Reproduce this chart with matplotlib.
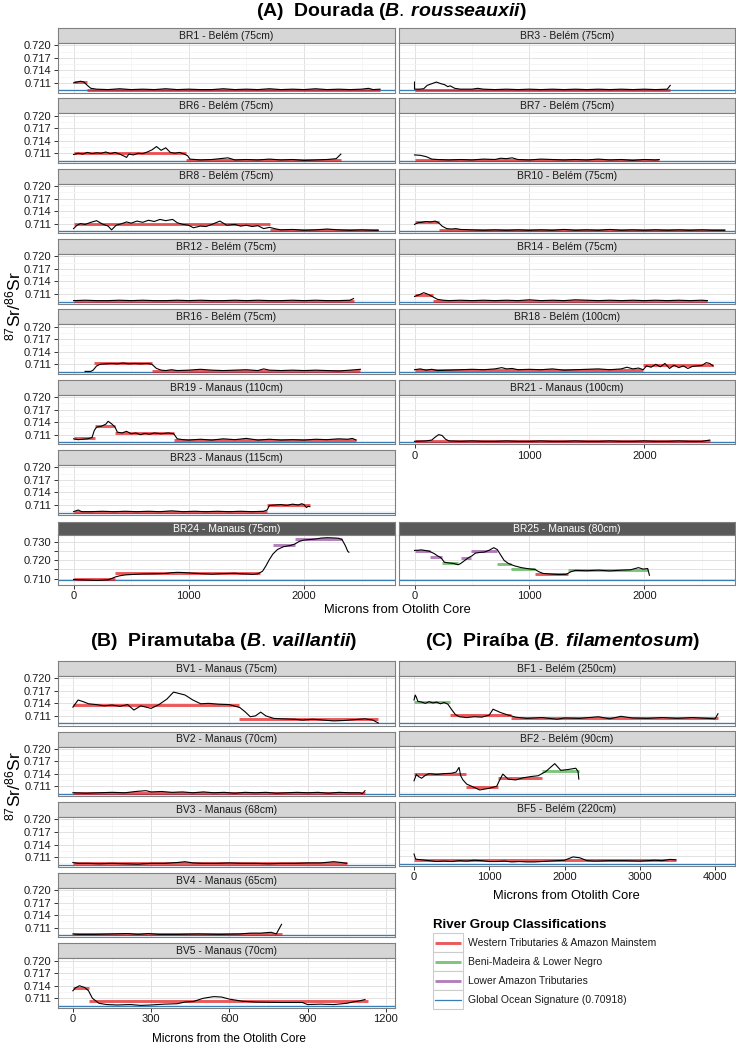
import numpy as np
import matplotlib.pyplot as plt
from matplotlib.patches import Rectangle

plt.rcParams['font.family'] = ['Liberation Sans', 'DejaVu Sans']
plt.rcParams['mathtext.fontset'] = 'custom'
plt.rcParams['mathtext.rm'] = 'Liberation Sans'
plt.rcParams['mathtext.it'] = 'Liberation Sans:style=italic:weight=bold'

W, H = 736, 1044
OCEAN = 0.70918
GROUP_COLORS = {'W': '#E41A1C', 'B': '#4DAF4A', 'L': '#984EA3'}

# ---------------- (A) Dourada : black profile (micron, 87Sr/86Sr) + classified segments ----------------
br1_line = [(0,.7110),(30,.7112),(60,.7114),(90,.7112),(120,.7104),(150,.7097),(200,.7095),(300,.7094),(400,.7096),(500,.7094),(600,.7095),(700,.7094),(800,.7096),(900,.7094),(1000,.7095),(1100,.7094),(1200,.7094),(1300,.7096),(1400,.7094),(1500,.7095),(1600,.7094),(1700,.7096),(1800,.7094),(1900,.7095),(2000,.7094),(2100,.7096),(2200,.7094),(2300,.7095),(2400,.7094),(2500,.7095),(2560,.7097),(2600,.7094),(2660,.7095)]
br1_bars = [(0,115,.7111,'W'),(115,2660,.7094,'W')]

br3_line = [(0,.7112),(0,.7095),(40,.7095),(80,.7096),(110,.7104),(150,.7108),(190,.7112),(230,.7108),(260,.7106),(290,.7101),(310,.7103),(350,.7097),(400,.7095),(500,.7095),(550,.7097),(600,.7095),(700,.7094),(800,.7095),(900,.7094),(1000,.7095),(1100,.7094),(1200,.7095),(1300,.7094),(1400,.7095),(1500,.7094),(1600,.7095),(1700,.7094),(1800,.7095),(1900,.7094),(2000,.7095),(2100,.7094),(2200,.7095),(2226,.7104)]
br3_bars = [(0,2226,.7094,'W')]

br6_line = [(0,.7107),(40,.7110),(80,.7108),(120,.7112),(160,.7109),(200,.7111),(240,.7110),(280,.7113),(320,.7109),(360,.7112),(400,.7108),(440,.7103),(460,.7100),(480,.7108),(520,.7106),(560,.7110),(600,.7109),(640,.7113),(680,.7118),(720,.7126),(760,.7117),(800,.7123),(840,.7112),(880,.7110),(920,.7112),(960,.7108),(990,.7104),(1010,.7096),(1100,.7094),(1200,.7095),(1340,.7099),(1400,.7094),(1500,.7095),(1600,.7094),(1700,.7096),(1800,.7094),(1900,.7095),(2000,.7093),(2100,.7094),(2200,.7095),(2280,.7097),(2320,.7108)]
br6_bars = [(0,980,.7110,'W'),(980,2320,.7094,'W')]

br7_line = [(0,.7106),(50,.7105),(100,.7102),(150,.7096),(200,.7095),(300,.7094),(400,.7095),(500,.7094),(600,.7096),(700,.7095),(750,.7098),(800,.7097),(850,.7099),(900,.7095),(1000,.7094),(1100,.7096),(1200,.7095),(1300,.7094),(1400,.7095),(1500,.7094),(1600,.7096),(1700,.7094),(1800,.7095),(1900,.7093),(2000,.7095),(2100,.7094),(2130,.7095)]
br7_bars = [(0,2130,.7094,'W')]

br8_line = [(0,.7098),(30,.7106),(60,.7110),(100,.7108),(150,.7113),(200,.7117),(250,.7109),(300,.7104),(330,.7095),(370,.7106),(420,.7110),(460,.7114),(500,.7111),(550,.7116),(600,.7113),(650,.7118),(700,.7115),(750,.7120),(800,.7117),(860,.7120),(900,.7112),(950,.7108),(1000,.7106),(1040,.7100),(1100,.7104),(1150,.7103),(1200,.7108),(1270,.7116),(1330,.7106),(1400,.7108),(1450,.7104),(1500,.7106),(1550,.7103),(1600,.7105),(1650,.7098),(1700,.7101),(1760,.7097),(1800,.7095),(1900,.7096),(2000,.7094),(2100,.7095),(2200,.7097),(2300,.7095),(2400,.7094),(2500,.7095),(2600,.7094),(2645,.7094)]
br8_bars = [(0,1705,.7109,'W'),(1705,2645,.7095,'W')]

br10_line = [(0,.7108),(30,.7112),(60,.7113),(100,.7115),(140,.7114),(180,.7116),(210,.7112),(240,.7104),(280,.7098),(320,.7097),(360,.7098),(400,.7096),(500,.7095),(600,.7094),(700,.7095),(800,.7094),(900,.7095),(1000,.7094),(1100,.7095),(1200,.7094),(1300,.7096),(1400,.7094),(1500,.7095),(1600,.7094),(1700,.7096),(1800,.7094),(1900,.7095),(2000,.7094),(2100,.7095),(2200,.7094),(2300,.7095),(2400,.7094),(2500,.7095),(2600,.7094),(2700,.7094)]
br10_bars = [(0,210,.7114,'W'),(210,2700,.7094,'W')]

br12_line = [(0,.7094),(100,.7095),(200,.7094),(300,.7094),(400,.7095),(500,.7094),(600,.7095),(700,.7094),(800,.7094),(900,.7095),(1000,.7094),(1100,.7095),(1200,.7094),(1300,.7094),(1400,.7095),(1500,.7094),(1600,.7095),(1700,.7094),(1800,.7094),(1900,.7095),(2000,.7094),(2100,.7095),(2200,.7094),(2300,.7094),(2400,.7095),(2430,.7099)]
br12_bars = [(0,2430,.7094,'W')]

br14_line = [(0,.7104),(40,.7108),(80,.7113),(120,.7109),(160,.7103),(200,.7097),(250,.7095),(300,.7094),(400,.7095),(500,.7094),(600,.7095),(700,.7094),(800,.7095),(900,.7094),(1000,.7096),(1100,.7094),(1200,.7095),(1300,.7094),(1400,.7096),(1500,.7095),(1600,.7094),(1700,.7095),(1800,.7094),(1900,.7095),(2000,.7094),(2100,.7095),(2200,.7094),(2300,.7095),(2400,.7094),(2500,.7095),(2550,.7094)]
br14_bars = [(0,165,.7108,'W'),(165,2550,.7094,'W')]

br16_line = [(100,.7093),(150,.7093),(170,.7096),(200,.7106),(230,.7110),(280,.7111),(330,.7112),(380,.7111),(430,.7113),(480,.7111),(530,.7112),(580,.7111),(640,.7112),(680,.7110),(720,.7100),(760,.7096),(800,.7095),(850,.7097),(900,.7095),(1000,.7096),(1100,.7098),(1200,.7096),(1300,.7095),(1400,.7096),(1500,.7097),(1600,.7095),(1650,.7099),(1700,.7096),(1800,.7095),(1900,.7096),(2000,.7095),(2100,.7096),(2200,.7095),(2300,.7094),(2400,.7096),(2490,.7098)]
br16_bars = [(175,680,.7112,'W'),(680,2490,.7095,'W')]

br18_line = [(0,.7097),(50,.7099),(100,.7096),(150,.7098),(200,.7095),(300,.7096),(400,.7097),(500,.7098),(600,.7097),(700,.7099),(760,.7102),(800,.7099),(850,.7100),(900,.7097),(1000,.7098),(1100,.7097),(1200,.7099),(1300,.7096),(1400,.7097),(1500,.7098),(1600,.7099),(1700,.7097),(1800,.7099),(1850,.7103),(1900,.7099),(1950,.7101),(1990,.7097),(2020,.7106),(2060,.7103),(2100,.7110),(2140,.7104),(2180,.7112),(2220,.7100),(2260,.7108),(2300,.7102),(2340,.7106),(2380,.7100),(2420,.7105),(2460,.7106),(2500,.7107),(2540,.7114),(2570,.7112),(2600,.7106)]
br18_bars = [(0,1990,.7096,'W'),(1990,2600,.7108,'W')]

br19_line = [(0,.7100),(40,.7098),(80,.7099),(120,.7100),(160,.7103),(180,.7120),(200,.7128),(240,.7130),(280,.7135),(300,.7142),(330,.7136),(360,.7128),(380,.7116),(420,.7114),(460,.7118),(500,.7112),(540,.7114),(580,.7110),(620,.7113),(660,.7111),(700,.7114),(760,.7112),(820,.7114),(870,.7112),(900,.7100),(950,.7098),(1000,.7097),(1100,.7099),(1200,.7097),(1300,.7100),(1400,.7098),(1500,.7101),(1600,.7097),(1700,.7099),(1800,.7097),(1900,.7098),(2000,.7097),(2100,.7099),(2200,.7098),(2300,.7100),(2380,.7099),(2420,.7101),(2452,.7097)]
br19_bars = [(0,183,.7102,'W'),(183,363,.7131,'W'),(363,872,.7113,'W'),(872,2452,.7098,'W')]

br21_line = [(0,.7094),(100,.7095),(150,.7097),(180,.7104),(210,.7110),(240,.7108),(270,.7099),(300,.7095),(400,.7094),(500,.7095),(600,.7094),(700,.7094),(800,.7095),(900,.7094),(1000,.7094),(1100,.7095),(1200,.7094),(1300,.7094),(1400,.7095),(1500,.7094),(1600,.7094),(1700,.7095),(1800,.7094),(1900,.7094),(2000,.7095),(2100,.7094),(2200,.7094),(2300,.7095),(2400,.7094),(2500,.7094),(2570,.7097)]
br21_bars = [(0,2570,.7094,'W')]

br23_line = [(0,.7094),(40,.7098),(70,.7094),(150,.7094),(250,.7095),(350,.7094),(450,.7095),(550,.7094),(650,.7095),(750,.7094),(850,.7096),(950,.7094),(1050,.7095),(1150,.7094),(1250,.7095),(1350,.7094),(1450,.7095),(1550,.7094),(1650,.7095),(1680,.7098),(1700,.7109),(1750,.7110),(1800,.7111),(1850,.7109),(1900,.7112),(1950,.7110),(1980,.7113),(2000,.7111),(2020,.7104),(2040,.7107),(2050,.7106)]
br23_bars = [(0,1680,.7094,'W'),(1680,2050,.7110,'W')]

br24_line = [(0,.7095),(50,.7093),(100,.7092),(150,.7091),(200,.7090),(250,.7091),(300,.7093),(330,.7100),(360,.7108),(400,.7115),(450,.7120),(500,.7122),(600,.7125),(700,.7126),(800,.7128),(850,.7132),(900,.7134),(950,.7133),(1000,.7131),(1100,.7127),(1200,.7124),(1300,.7127),(1400,.7129),(1450,.7126),(1500,.7125),(1560,.7123),(1600,.7126),(1640,.7140),(1670,.7170),(1700,.7205),(1730,.7235),(1770,.7260),(1820,.7275),(1880,.7282),(1920,.7290),(1960,.7305),(2000,.7312),(2050,.7315),(2100,.7318),(2150,.7323),(2200,.7325),(2250,.7324),(2300,.7322),(2330,.7315),(2360,.7280),(2380,.7250),(2390,.7245)]
br24_bars = [(0,357,.7095,'W'),(357,1617,.7131,'W'),(1727,1922,.7285,'L'),(1922,2330,.7318,'L')]

br25_line = [(0,.7255),(30,.7256),(60,.7258),(100,.7254),(130,.7250),(170,.7238),(200,.7225),(230,.7215),(260,.7190),(300,.7186),(340,.7183),(380,.7176),(400,.7182),(430,.7196),(470,.7215),(500,.7225),(530,.7240),(570,.7244),(610,.7246),(650,.7256),(690,.7270),(720,.7260),(750,.7230),(780,.7200),(820,.7182),(870,.7170),(930,.7160),(1000,.7153),(1050,.7150),(1080,.7138),(1120,.7128),(1200,.7124),(1260,.7122),(1320,.7123),(1360,.7137),(1400,.7145),(1500,.7143),(1600,.7146),(1700,.7142),(1800,.7146),(1880,.7148),(1950,.7160),(1990,.7152),(2030,.7155),(2045,.7118)]
br25_bars = [(0,137,.7253,'L'),(137,239,.7218,'L'),(239,376,.7184,'B'),(408,496,.7215,'L'),(496,720,.7251,'L'),(720,837,.7182,'B'),(837,1047,.7151,'B'),(1047,1338,.7125,'W'),(1338,2032,.7145,'B')]

# ---------------- (B) Piramutaba ----------------
bv1_line = [(0,.7131),(20,.7148),(40,.7144),(60,.7139),(90,.7137),(120,.7134),(150,.7136),(180,.7133),(210,.7137),(234,.7124),(260,.7134),(280,.7131),(300,.7128),(330,.7137),(360,.7150),(386,.7167),(430,.7160),(460,.7148),(490,.7139),(520,.7140),(560,.7138),(600,.7137),(640,.7130),(660,.7120),(680,.7108),(700,.7110),(720,.7119),(740,.7110),(770,.7104),(800,.7103),(850,.7102),(880,.7100),(920,.7102),(960,.7100),(1000,.7098),(1040,.7099),(1080,.7101),(1120,.7103),(1150,.7100),(1171,.7093)]
bv1_bars = [(0,636,.7137,'W'),(636,1171,.7103,'W')]

bv2_line = [(0,.7095),(50,.7094),(100,.7095),(150,.7096),(200,.7095),(240,.7098),(280,.7100),(300,.7097),(340,.7098),(380,.7096),(420,.7097),(460,.7095),(500,.7097),(540,.7095),(580,.7096),(620,.7094),(660,.7096),(700,.7095),(740,.7096),(780,.7094),(820,.7095),(860,.7096),(900,.7095),(940,.7096),(980,.7094),(1020,.7096),(1060,.7095),(1100,.7095),(1110,.7093),(1120,.7100)]
bv2_bars = [(0,1120,.7094,'W')]

bv3_line = [(0,.7097),(20,.7095),(60,.7095),(100,.7094),(150,.7095),(200,.7094),(250,.7093),(270,.7094),(300,.7095),(350,.7095),(400,.7097),(430,.7099),(460,.7096),(500,.7095),(550,.7095),(600,.7096),(650,.7095),(700,.7095),(750,.7094),(800,.7095),(850,.7095),(900,.7096),(950,.7096),(1000,.7099),(1030,.7097),(1050,.7095)]
bv3_bars = [(0,1050,.7095,'W')]

bv4_line = [(0,.7095),(20,.7094),(80,.7094),(150,.7095),(210,.7096),(250,.7094),(290,.7096),(330,.7094),(400,.7094),(480,.7095),(560,.7094),(640,.7095),(680,.7097),(720,.7097),(760,.7099),(780,.7095),(800,.7118)]
bv4_bars = [(0,800,.7094,'W')]

bv5_line = [(0,.7128),(10,.7135),(25,.7140),(45,.7136),(60,.7128),(75,.7110),(100,.7098),(130,.7095),(170,.7094),(220,.7095),(260,.7093),(300,.7094),(350,.7096),(400,.7097),(430,.7101),(460,.7102),(500,.7110),(540,.7114),(570,.7113),(600,.7108),(650,.7103),(700,.7101),(800,.7100),(880,.7100),(900,.7095),(950,.7096),(1000,.7095),(1050,.7098),(1080,.7102),(1100,.7104),(1120,.7107)]
bv5_bars = [(0,60,.7134,'W'),(60,1130,.7103,'W')]

# ---------------- (C) Piraiba ----------------
bf1_line = [(0,.7148),(15,.7160),(30,.7155),(50,.7145),(100,.7143),(150,.7140),(200,.7144),(250,.7141),(300,.7143),(350,.7139),(400,.7142),(450,.7138),(500,.7125),(550,.7113),(600,.7108),(700,.7106),(800,.7108),(900,.7107),(1000,.7112),(1050,.7126),(1100,.7122),(1150,.7118),(1250,.7112),(1350,.7107),(1500,.7104),(1700,.7106),(1900,.7102),(2000,.7105),(2200,.7104),(2450,.7108),(2600,.7103),(2750,.7109),(2900,.7105),(3100,.7104),(3300,.7106),(3500,.7104),(3700,.7106),(3900,.7104),(4000,.7103),(4040,.7115)]
bf1_bars = [(0,474,.7143,'B'),(474,1293,.7112,'W'),(1293,4040,.7106,'W')]

bf2_line = [(0,.7123),(30,.7138),(60,.7133),(100,.7129),(150,.7136),(200,.7140),(300,.7138),(400,.7140),(500,.7141),(560,.7144),(598,.7155),(620,.7135),(650,.7125),(700,.7115),(800,.7107),(873,.7101),(1000,.7105),(1100,.7110),(1130,.7122),(1180,.7139),(1250,.7127),(1350,.7125),(1450,.7130),(1550,.7133),(1650,.7135),(1750,.7145),(1870,.7164),(1950,.7148),(2050,.7150),(2150,.7153),(2180,.7145),(2190,.7127)]
bf2_bars = [(0,687,.7138,'W'),(687,1116,.7108,'W'),(1116,1705,.7129,'W'),(1705,2193,.7147,'B')]

bf5_line = [(0,.7116),(20,.7104),(50,.7103),(100,.7102),(200,.7100),(300,.7098),(400,.7099),(500,.7098),(600,.7100),(700,.7099),(800,.7101),(900,.7100),(1000,.7098),(1100,.7098),(1200,.7099),(1300,.7097),(1400,.7098),(1500,.7097),(1600,.7097),(1700,.7098),(1800,.7099),(1900,.7100),(2000,.7101),(2113,.7109),(2200,.7107),(2300,.7100),(2400,.7099),(2600,.7100),(2800,.7100),(3000,.7099),(3200,.7101),(3300,.7100),(3400,.7103),(3480,.7102)]
bf5_bars = [(0,3487,.7101,'W')]

legend_labels = ['Western Tributaries & Amazon Mainstem', 'Beni-Madeira & Lower Negro',
                 'Lower Amazon Tributaries', 'Global Ocean Signature (0.70918)']
legend_groups = ['W', 'B', 'L', 'O']

# ---------------- drawing ----------------
fig = plt.figure(figsize=(W / 100, H / 100), dpi=100)


def box(l, t, r, b):
    return [l / W, 1 - b / H, (r - l) / W, (b - t) / H]


def ftext(x, y, s, **kw):
    fig.text(x / W, 1 - y / H, s, **kw)


STD_Y = dict(ylim=(0.7087, 0.72055), ymaj=[0.711, 0.714, 0.717, 0.720],
             ymin=[0.7095, 0.7125, 0.7155, 0.7185], ylabs=['0.711', '0.714', '0.717', '0.720'])
BIG_Y = dict(ylim=(0.7067, 0.7340), ymaj=[0.710, 0.715, 0.720, 0.725, 0.730],
             ymin=[], ylabs=['0.710', '', '0.720', '', '0.730'])
A_X = dict(xlim=(-135, 2790), xmaj=[0, 1000, 2000], xmin=[500, 1500, 2500])
B_X = dict(xlim=(-57, 1235), xmaj=[0, 300, 600, 900, 1200], xmin=[150, 450, 750, 1050])
C_X = dict(xlim=(-200, 4266), xmaj=[0, 1000, 2000, 3000, 4000], xmin=[500, 1500, 2500, 3500])


def facet(l, r, top, name, line, bars, xs, ys, show_y, show_x, dark=False, sh=15, ph=49.5):
    st = fig.add_axes(box(l, top, r, top + sh))
    st.set_facecolor('#595959' if dark else '#d6d6d6')
    st.set_xticks([])
    st.set_yticks([])
    for s in st.spines.values():
        s.set_color('#808080')
        s.set_linewidth(0.8)
    st.text(0.5, 0.48, name, transform=st.transAxes, ha='center', va='center',
            fontsize=7.5, color='white' if dark else '#1a1a1a')

    ax = fig.add_axes(box(l, top + sh, r, top + sh + ph))
    ax.set_xlim(xs['xlim'])
    ax.set_ylim(ys['ylim'])
    ax.set_xticks(xs['xmaj'])
    ax.set_xticks(xs['xmin'], minor=True)
    ax.set_yticks(ys['ymaj'])
    ax.set_yticks(ys['ymin'], minor=True)
    ax.set_yticklabels(ys['ylabs'])
    ax.set_xticklabels([str(v) for v in xs['xmaj']])
    ax.grid(which='major', color='#e2e2e2', lw=0.7)
    ax.grid(which='minor', color='#f3f3f3', lw=0.5)
    ax.set_axisbelow(True)
    ax.tick_params(which='minor', length=0)
    ax.tick_params(which='major', length=3, width=0.7, color='#333333',
                   labelsize=8, labelcolor='#1a1a1a', pad=1.5)
    ax.tick_params(axis='y', left=show_y, labelleft=show_y)
    ax.tick_params(axis='x', bottom=show_x, labelbottom=show_x)
    for s in ax.spines.values():
        s.set_color('#808080')
        s.set_linewidth(0.8)

    ax.axhline(OCEAN, color='#377EB8', lw=0.9, zorder=2)
    for x0, x1, v, g in bars:
        ax.plot([x0, x1], [v, v], color=GROUP_COLORS[g], lw=2.1, alpha=0.72,
                solid_capstyle='butt', zorder=3)
    xy = np.array(line)
    ax.plot(xy[:, 0], xy[:, 1], color='black', lw=0.8, zorder=4)
    return ax


# (A) Dourada
AL, AR = (58, 395), (399, 735)
a_rows = [28 + i * 70.35 for i in range(7)]
a_left = [('BR1 - Belém (75cm)', br1_line, br1_bars), ('BR6 - Belém (75cm)', br6_line, br6_bars),
          ('BR8 - Belém (75cm)', br8_line, br8_bars), ('BR12 - Belém (75cm)', br12_line, br12_bars),
          ('BR16 - Belém (75cm)', br16_line, br16_bars), ('BR19 - Manaus (110cm)', br19_line, br19_bars),
          ('BR23 - Manaus (115cm)', br23_line, br23_bars)]
a_right = [('BR3 - Belém (75cm)', br3_line, br3_bars), ('BR7 - Belém (75cm)', br7_line, br7_bars),
           ('BR10 - Belém (75cm)', br10_line, br10_bars), ('BR14 - Belém (75cm)', br14_line, br14_bars),
           ('BR18 - Belém (100cm)', br18_line, br18_bars), ('BR21 - Manaus (100cm)', br21_line, br21_bars)]
for i, (nm, ln, bs) in enumerate(a_left):
    facet(AL[0], AL[1], a_rows[i], nm, ln, bs, A_X, STD_Y, True, False)
for i, (nm, ln, bs) in enumerate(a_right):
    facet(AR[0], AR[1], a_rows[i], nm, ln, bs, A_X, STD_Y, False, i == len(a_right) - 1)

facet(AL[0], AL[1], 522, 'BR24 - Manaus (75cm)', br24_line, br24_bars, A_X, BIG_Y, True, True,
      dark=True, sh=13, ph=49.5)
facet(AR[0], AR[1], 522, 'BR25 - Manaus (80cm)', br25_line, br25_bars, A_X, BIG_Y, False, True,
      dark=True, sh=13, ph=49.5)

# (B) Piramutaba
b_rows = [661 + i * 70.6 for i in range(5)]
b_panels = [('BV1 - Manaus (75cm)', bv1_line, bv1_bars), ('BV2 - Manaus (70cm)', bv2_line, bv2_bars),
            ('BV3 - Manaus (68cm)', bv3_line, bv3_bars), ('BV4 - Manaus (65cm)', bv4_line, bv4_bars),
            ('BV5 - Manaus (70cm)', bv5_line, bv5_bars)]
for i, (nm, ln, bs) in enumerate(b_panels):
    facet(AL[0], AL[1], b_rows[i], nm, ln, bs, B_X, STD_Y, True, i == len(b_panels) - 1)

# (C) Piraiba
c_rows = [661 + i * 70.3 for i in range(3)]
c_panels = [('BF1 - Belém (250cm)', bf1_line, bf1_bars), ('BF2 - Belém (90cm)', bf2_line, bf2_bars),
            ('BF5 - Belém (220cm)', bf5_line, bf5_bars)]
for i, (nm, ln, bs) in enumerate(c_panels):
    facet(AR[0], AR[1], c_rows[i], nm, ln, bs, C_X, STD_Y, False, i == len(c_panels) - 1)

# titles and axis labels
ftext(391, 11, r'(A)  Dourada ($\mathit{B.\,rousseauxii}$)', ha='center', va='center',
      fontsize=14, fontweight='bold')
ftext(224, 641, r'(B)  Piramutaba ($\mathit{B.\,vaillantii}$)', ha='center', va='center',
      fontsize=14, fontweight='bold')
ftext(562, 641, r'(C)  Piraíba ($\mathit{B.\,filamentosum}$)', ha='center', va='center',
      fontsize=14, fontweight='bold')
ylab = r'$^{87}$Sr/$^{86}$Sr'
ftext(13, 306, ylab, ha='center', va='center', rotation=90, fontsize=12.5)
ftext(13, 786, ylab, ha='center', va='center', rotation=90, fontsize=12.5)
ftext(397, 610, 'Microns from Otolith Core', ha='center', va='center', fontsize=9.3)
ftext(229, 1039, 'Microns from the Otolith Core', ha='center', va='center', fontsize=8.5)
ftext(566, 896, 'Microns from Otolith Core', ha='center', va='center', fontsize=9.3)

# legend
lg = fig.add_axes([0, 0, 1, 1], zorder=-1)
lg.set_xlim(0, W)
lg.set_ylim(H, 0)
lg.axis('off')
lg.text(433, 925, 'River Group Classifications', ha='left', va='center', fontsize=9.5, fontweight='bold')
for i, (lab, g) in enumerate(zip(legend_labels, legend_groups)):
    y0 = 933 + i * 19.1
    lg.add_patch(Rectangle((433, y0), 30, 19.1, facecolor='white', edgecolor='#cccccc', lw=0.8))
    if g == 'O':
        lg.plot([435, 461], [y0 + 9.5, y0 + 9.5], color='#377EB8', lw=0.9)
    else:
        lg.plot([435, 461], [y0 + 9.5, y0 + 9.5], color=GROUP_COLORS[g], lw=2.1, alpha=0.72,
                solid_capstyle='butt')
    lg.text(468, y0 + 9.5, lab, ha='left', va='center', fontsize=7.5, color='#1a1a1a')

fig.savefig('out.png', dpi=100)
